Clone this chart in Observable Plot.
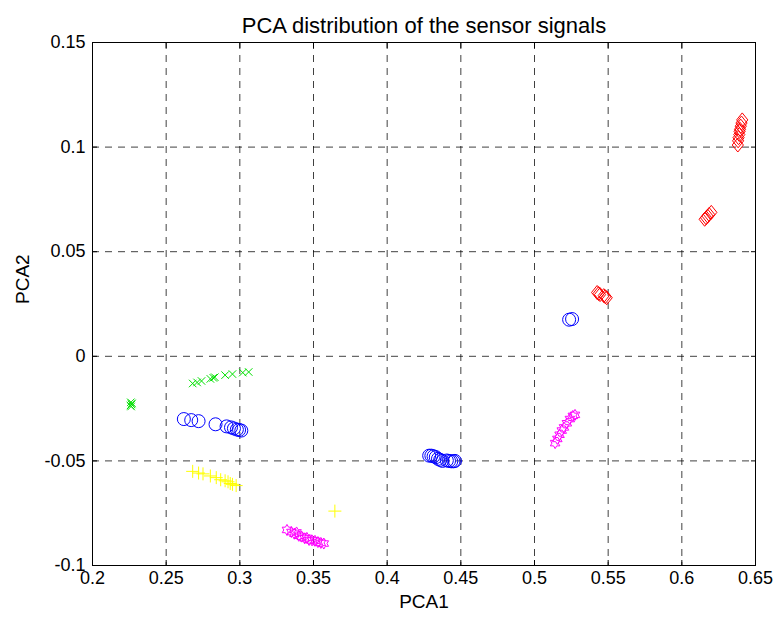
<!DOCTYPE html>
<html>
<head>
<meta charset="utf-8">
<script src="https://cdn.jsdelivr.net/npm/d3@7"></script>
<script src="https://cdn.jsdelivr.net/npm/@observablehq/plot@0.6"></script>
<style>
  html, body { margin: 0; padding: 0; background: #fff; }
</style>
</head>
<body>
<div id="chart"></div>
<script>
// ---- data ----
const xTicks = [0.2, 0.25, 0.3, 0.35, 0.4, 0.45, 0.5, 0.55, 0.6, 0.65];
const xTickLabels = ["0.2", "0.25", "0.3", "0.35", "0.4", "0.45", "0.5", "0.55", "0.6", "0.65"];
const yTicks = [-0.1, -0.05, 0, 0.05, 0.1, 0.15];
const yTickLabels = ["-0.1", "-0.05", "0", "0.05", "0.1", "0.15"];

const redDiamonds = [
  [0.5425, 0.0305], [0.5435, 0.0300], [0.5445, 0.0295], [0.5470, 0.0290], [0.5480, 0.0285], [0.5490, 0.0280],
  [0.6155, 0.0655], [0.6165, 0.0662], [0.6175, 0.0670], [0.6185, 0.0678], [0.6200, 0.0688],
  [0.6380, 0.1010], [0.6382, 0.1030], [0.6385, 0.1045], [0.6390, 0.1060], [0.6392, 0.1075],
  [0.6395, 0.1085], [0.6400, 0.1100], [0.6405, 0.1115], [0.6410, 0.1130]
];
const blueCircles = [
  [0.5235, 0.0175], [0.5255, 0.0178],
  [0.4285, -0.0475], [0.4300, -0.0475], [0.4315, -0.0478], [0.4330, -0.0482], [0.4345, -0.0490],
  [0.4360, -0.0495], [0.4375, -0.0500], [0.4405, -0.0498], [0.4420, -0.0500], [0.4435, -0.0502],
  [0.4450, -0.0502], [0.4460, -0.0500],
  [0.2620, -0.0300], [0.2670, -0.0305], [0.2720, -0.0310], [0.2835, -0.0325], [0.2910, -0.0335],
  [0.2940, -0.0340], [0.2960, -0.0345], [0.2980, -0.0350], [0.2995, -0.0352], [0.3010, -0.0355]
];
const greenCrosses = [
  [0.2260, -0.0220], [0.2265, -0.0230], [0.2262, -0.0240], [0.2268, -0.0225], [0.2258, -0.0235],
  [0.2680, -0.0130], [0.2710, -0.0125], [0.2740, -0.0118], [0.2800, -0.0108], [0.2820, -0.0103],
  [0.2830, -0.0100], [0.2900, -0.0090], [0.2950, -0.0085], [0.3020, -0.0078], [0.3060, -0.0075]
];
const yellowPluses = [
  [0.2680, -0.0550], [0.2720, -0.0558], [0.2750, -0.0562], [0.2800, -0.0572], [0.2840, -0.0580],
  [0.2870, -0.0590], [0.2900, -0.0595], [0.2920, -0.0600], [0.2935, -0.0608], [0.2950, -0.0612],
  [0.2975, -0.0618],
  [0.3645, -0.0740]
];
const magentaStars = [
  [0.3320, -0.0830], [0.3350, -0.0840], [0.3370, -0.0848], [0.3385, -0.0842], [0.3400, -0.0858],
  [0.3420, -0.0862], [0.3440, -0.0870], [0.3455, -0.0868], [0.3470, -0.0878], [0.3490, -0.0880],
  [0.3510, -0.0882], [0.3530, -0.0888], [0.3550, -0.0892], [0.3570, -0.0895],
  [0.5140, -0.0415], [0.5155, -0.0395], [0.5170, -0.0375], [0.5185, -0.0355], [0.5200, -0.0340],
  [0.5220, -0.0320], [0.5240, -0.0300], [0.5260, -0.0285], [0.5275, -0.0280]
];

// ---- custom marker shapes (MATLAB style) ----
const rad = (size) => Math.sqrt(size / Math.PI);
const diamondSym = { draw(c, size) { const r = rad(size); c.moveTo(0, -r); c.lineTo(0.8 * r, 0); c.lineTo(0, r); c.lineTo(-0.8 * r, 0); c.closePath(); } };
const plusSym = { draw(c, size) { const r = rad(size); c.moveTo(-r, 0); c.lineTo(r, 0); c.moveTo(0, -r); c.lineTo(0, r); } };
const timesSym = { draw(c, size) { const r = rad(size) * 0.75; c.moveTo(-r, -r); c.lineTo(r, r); c.moveTo(-r, r); c.lineTo(r, -r); } };
const hexagramSym = { draw(c, size) {
  const R = rad(size), ri = R / Math.sqrt(3);
  for (let i = 0; i < 12; i++) {
    const a = -Math.PI / 2 + i * Math.PI / 6;
    const rr = i % 2 === 0 ? R : ri;
    const px = rr * Math.cos(a), py = rr * Math.sin(a);
    if (i === 0) c.moveTo(px, py); else c.lineTo(px, py);
  }
  c.closePath();
} };

const font = "'Liberation Sans', Arial, Helvetica, sans-serif";
const dot = (data, symbol, color, r) =>
  Plot.dot(data, { x: d => d[0], y: d => d[1], symbol, r, stroke: color, fill: "none", strokeWidth: 1 });

const gridStyle = { stroke: "#000", strokeOpacity: 0.75, strokeWidth: 1, strokeDasharray: "7,6" };

const chart = Plot.plot({
  width: 781,
  height: 621,
  marginLeft: 92,
  marginRight: 26,
  marginTop: 42,
  marginBottom: 56,
  style: { fontFamily: font, fontSize: "18px", background: "#fff", color: "#000", overflow: "visible" },
  x: { domain: [0.2, 0.65] },
  y: { domain: [-0.1, 0.15] },
  marks: [
    Plot.gridX(xTicks.slice(1, -1), gridStyle),
    Plot.gridY(yTicks.slice(1, -1), gridStyle),
    Plot.frame({ stroke: "#000", strokeWidth: 1 }),
    // inward ticks on all four sides
    Plot.axisX(xTicks, { anchor: "bottom", tickSize: -5, fill: "none", label: null }),
    Plot.axisX(xTicks, { anchor: "top", tickSize: -5, fill: "none", label: null }),
    Plot.axisY(yTicks, { anchor: "left", tickSize: -5, fill: "none", label: null }),
    Plot.axisY(yTicks, { anchor: "right", tickSize: -5, fill: "none", label: null }),
    // tick labels
    Plot.axisX(xTicks, { anchor: "bottom", tickSize: 0, tickPadding: 6, tickFormat: (d, i) => xTickLabels[i], label: null, fontSize: 18 }),
    Plot.axisY(yTicks, { anchor: "left", tickSize: 0, tickPadding: 7, tickFormat: (d, i) => yTickLabels[i], label: null, fontSize: 18 }),
    // axis titles and chart title
    Plot.text(["PCA1"], { frameAnchor: "bottom", dy: 42, fontSize: 19, fill: "#000" }),
    Plot.text(["PCA2"], { frameAnchor: "left", dx: -70, rotate: -90, fontSize: 19, fill: "#000" }),
    Plot.text(["PCA distribution of the sensor signals"], { frameAnchor: "top", dy: -25, fontSize: 22, fill: "#000" }),
    // data
    dot(redDiamonds, diamondSym, "#ff0000", 7),
    dot(blueCircles, "circle", "#0000ff", 6.5),
    dot(greenCrosses, timesSym, "#00e000", 5),
    dot(yellowPluses, plusSym, "#ffff00", 6.5),
    dot(magentaStars, hexagramSym, "#ff00ff", 5.5)
  ]
});
document.getElementById("chart").appendChild(chart);
</script>
</body>
</html>
